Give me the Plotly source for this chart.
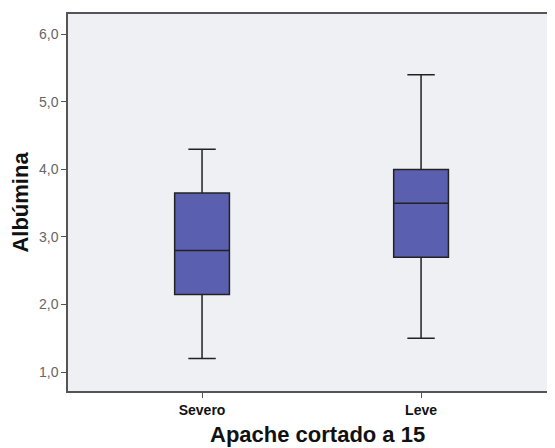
import plotly.graph_objects as go

categories = ["Severo", "Leve"]
lower_whisker = [1.2, 1.5]
q1_values = [2.15, 2.7]
medians = [2.8, 3.5]
q3_values = [3.65, 4.0]
upper_whisker = [4.3, 5.4]
y_ticks = [1, 2, 3, 4, 5, 6]

fig = go.Figure()
fig.add_trace(go.Box(
    x=categories,
    q1=q1_values, median=medians, q3=q3_values,
    lowerfence=lower_whisker, upperfence=upper_whisker,
    fillcolor="#5a5fb0",
    line=dict(color="#222222", width=1.5),
    width=0.25,
    whiskerwidth=0.5,
    boxpoints=False,
    hoverinfo="skip",
))

# the page body has an 8px margin, so the figure is shifted by 8px
fig.update_layout(
    width=539, height=440,
    margin=dict(l=60, r=0, t=6, b=57),
    paper_bgcolor="white",
    plot_bgcolor="#eef0f3",
    separators=",.",
    showlegend=False,
    font=dict(family="Liberation Sans, Arial, sans-serif"),
)
fig.add_annotation(
    text="<b>Apache cortado a 15</b>",
    xref="paper", yref="paper", x=0.52, y=0,
    xanchor="center", yanchor="middle", yshift=-43,
    showarrow=False,
    font=dict(size=22, color="#111111"),
)
fig.update_xaxes(
    type="category",
    automargin=False,
    range=[-0.612, 1.575],
    showline=True, linecolor="#555555", linewidth=1.5, mirror=True,
    ticks="outside", ticklen=5, tickcolor="#555555",
    showgrid=False, zeroline=False,
    tickfont=dict(size=14, color="#111111", family="Liberation Sans, Arial, sans-serif"),
    tickprefix="<b>", ticksuffix="</b>",
)
fig.update_yaxes(
    automargin=False,
    range=[0.72, 6.3],
    tickvals=y_ticks,
    tickformat=".1f",
    showline=True, linecolor="#555555", linewidth=1.5,
    ticks="outside", ticklen=5, tickcolor="#555555",
    showgrid=False, zeroline=False,
    tickfont=dict(size=14, color="#666666"),
    title=dict(text="<b>Albúmina</b>", font=dict(size=22, color="#111111"), standoff=10),
)

fig.write_html("out.html")
